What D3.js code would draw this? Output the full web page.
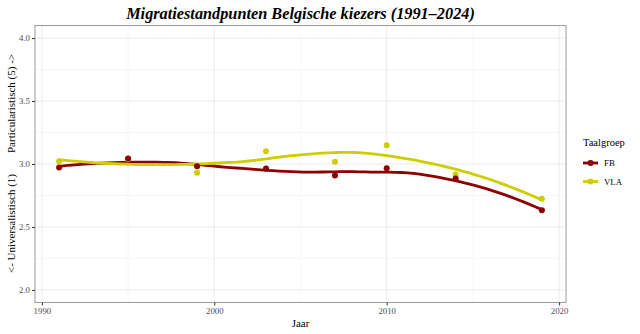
<!DOCTYPE html>
<html><head><meta charset="utf-8">
<script src="https://cdn.jsdelivr.net/npm/d3@7"></script>
<style>body{margin:0;background:#fff}svg{display:block}text{font-family:"Liberation Serif","Times New Roman",serif}</style>
</head><body><svg id="c" width="640" height="334"></svg>
<script>
const groups = ["FB", "VLA"];
const colors = ["#8B0000", "#CDCD00"];
const years = [1991, 1995, 1999, 2003, 2007, 2010, 2014, 2019];
const fbValues = [2.972, 3.044, 2.982, 2.964, 2.909, 2.966, 2.885, 2.632];
const vlaValues = [3.022, 3.040, 2.930, 3.101, 3.017, 3.148, 2.917, 2.724];
const xTicks = [1990, 2000, 2010, 2020];
const xMinor = [1995, 2005, 2015];
const yTicks = [2.0, 2.5, 3.0, 3.5, 4.0];
const yMinor = [2.25, 2.75, 3.25, 3.75];

const series = [
  {name: groups[0], color: colors[0], pts: years.map((x, i) => ({x, y: fbValues[i]}))},
  {name: groups[1], color: colors[1], pts: years.map((x, i) => ({x, y: vlaValues[i]}))}
];

// local quadratic fit (loess, span 0.75, tricube) -> [value, slope]
function localFit(pts, x0, span = 0.75) {
  const n = pts.length, q = Math.floor(n * span);
  const d = pts.map(p => Math.abs(p.x - x0));
  const h = d.slice().sort((a, b) => a - b)[q - 1];
  const S = [[0,0,0],[0,0,0],[0,0,0]], B = [0,0,0];
  pts.forEach((p, i) => {
    const u = d[i] / h; if (u >= 1) return;
    const w = Math.pow(1 - u*u*u, 3);
    const t = p.x - x0, v = [1, t, t*t];
    for (let a = 0; a < 3; a++) { B[a] += w*v[a]*p.y; for (let b = 0; b < 3; b++) S[a][b] += w*v[a]*v[b]; }
  });
  const M = S.map((r, i) => r.concat([B[i]]));
  for (let c = 0; c < 3; c++) {
    let piv = c; for (let r = c+1; r < 3; r++) if (Math.abs(M[r][c]) > Math.abs(M[piv][c])) piv = r;
    [M[c], M[piv]] = [M[piv], M[c]];
    for (let r = 0; r < 3; r++) if (r !== c) { const f = M[r][c]/M[c][c]; for (let k = c; k < 4; k++) M[r][k] -= f*M[c][k]; }
  }
  return [M[0][3]/M[0][0], M[1][3]/M[1][1]];
}
// loess "interpolate" surface: fits at kd-tree vertices + cubic Hermite between them
function loessCurve(pts, nOut = 80) {
  const xs = pts.map(p => p.x).sort((a, b) => a - b);
  const lo = xs[0], hi = xs[xs.length-1], mu = 0.005 * (hi - lo);
  const verts = [lo - mu];
  for (let i = 0; i < xs.length - 1; i++) verts.push((xs[i] + xs[i+1]) / 2);
  verts.push(hi + mu);
  const fits = verts.map(v => localFit(pts, v));
  const out = [];
  for (let k = 0; k < nOut; k++) {
    const gx = lo + (hi - lo) * k / (nOut - 1);
    let j = 0; while (j < verts.length - 2 && gx > verts[j+1]) j++;
    const x0 = verts[j], x1 = verts[j+1], hh = x1 - x0, t = (gx - x0) / hh;
    const [y0, m0] = fits[j], [y1, m1] = fits[j+1];
    const h00 = 2*t*t*t - 3*t*t + 1, h10 = t*t*t - 2*t*t + t, h01 = -2*t*t*t + 3*t*t, h11 = t*t*t - t*t;
    out.push([gx, h00*y0 + h10*hh*m0 + h01*y1 + h11*hh*m1]);
  }
  return out;
}

const svg = d3.select("#c");
const L = 35, R = 566, T = 25.5, Bm = 302.5;
const x = d3.scaleLinear().domain([1989.6, 2020.4]).range([L, R]);
const y = d3.scaleLinear().domain([1.9, 4.1]).range([Bm, T]);

svg.append("rect").attr("x", L).attr("y", T).attr("width", R-L).attr("height", Bm-T).attr("fill", "#fff");
const g = svg.append("g");
xMinor.forEach(v => g.append("line").attr("x1", x(v)).attr("x2", x(v)).attr("y1", T).attr("y2", Bm).attr("stroke", "#f4f4f4").attr("stroke-width", 0.8));
yMinor.forEach(v => g.append("line").attr("y1", y(v)).attr("y2", y(v)).attr("x1", L).attr("x2", R).attr("stroke", "#f4f4f4").attr("stroke-width", 0.8));
xTicks.forEach(v => g.append("line").attr("x1", x(v)).attr("x2", x(v)).attr("y1", T).attr("y2", Bm).attr("stroke", "#ebebeb").attr("stroke-width", 1));
yTicks.forEach(v => g.append("line").attr("y1", y(v)).attr("y2", y(v)).attr("x1", L).attr("x2", R).attr("stroke", "#ebebeb").attr("stroke-width", 1));

const line = d3.line().x(d => x(d[0])).y(d => y(d[1]));
series.forEach(s => {
  g.append("path").attr("d", line(loessCurve(s.pts))).attr("fill", "none").attr("stroke", s.color).attr("stroke-width", 2.8);
});
// points in data order: per year, VLA first then FB
years.forEach((yr, i) => {
  [series[1], series[0]].forEach(s => {
    g.append("circle").attr("cx", x(yr)).attr("cy", y(s.pts[i].y)).attr("r", 3).attr("fill", s.color);
  });
});

svg.append("rect").attr("x", L).attr("y", T).attr("width", R-L).attr("height", Bm-T).attr("fill", "none").attr("stroke", "#9a9a9a").attr("stroke-width", 1);

const xa = svg.append("g").attr("transform", `translate(0,${Bm})`).call(d3.axisBottom(x).tickValues(xTicks).tickFormat(d3.format("d")).tickSize(3).tickPadding(2));
const ya = svg.append("g").attr("transform", `translate(${L},0)`).call(d3.axisLeft(y).tickValues(yTicks).tickFormat(d3.format(".1f")).tickSize(3).tickPadding(2));
[xa, ya].forEach(a => {
  a.select(".domain").remove();
  a.selectAll(".tick line").attr("stroke", "#333");
  a.selectAll(".tick text").attr("fill", "#4d4d4d").style("font-size", "8.8px").style("font-family", "Liberation Serif");
});

svg.append("text").attr("x", 300.5).attr("y", 19).attr("text-anchor", "middle")
  .style("font-size", "16.3px").style("font-weight", "bold").style("font-style", "italic")
  .text("Migratiestandpunten Belgische kiezers (1991–2024)");
svg.append("text").attr("x", 300.5).attr("y", 327).attr("text-anchor", "middle").style("font-size", "11px").text("Jaar");
svg.append("text").attr("transform", "translate(15,153) rotate(-90)").attr("text-anchor", "start").style("font-size", "11px").text("Particularistisch (5) ->");
svg.append("text").attr("transform", "translate(15,174) rotate(-90)").attr("text-anchor", "end").style("font-size", "11px").text("<- Universalistisch (1)");

const lg = svg.append("g");
lg.append("text").attr("x", 583).attr("y", 146).style("font-size", "10.5px").text("Taalgroep");
series.forEach((s, i) => {
  const yy = 163 + i * 18.5;
  lg.append("line").attr("x1", 583).attr("x2", 598).attr("y1", yy).attr("y2", yy).attr("stroke", s.color).attr("stroke-width", 2.8);
  lg.append("circle").attr("cx", 590.5).attr("cy", yy).attr("r", 3).attr("fill", s.color);
  lg.append("text").attr("x", 604).attr("y", yy + 3).style("font-size", "8.8px").text(s.name);
});
</script></body></html>
